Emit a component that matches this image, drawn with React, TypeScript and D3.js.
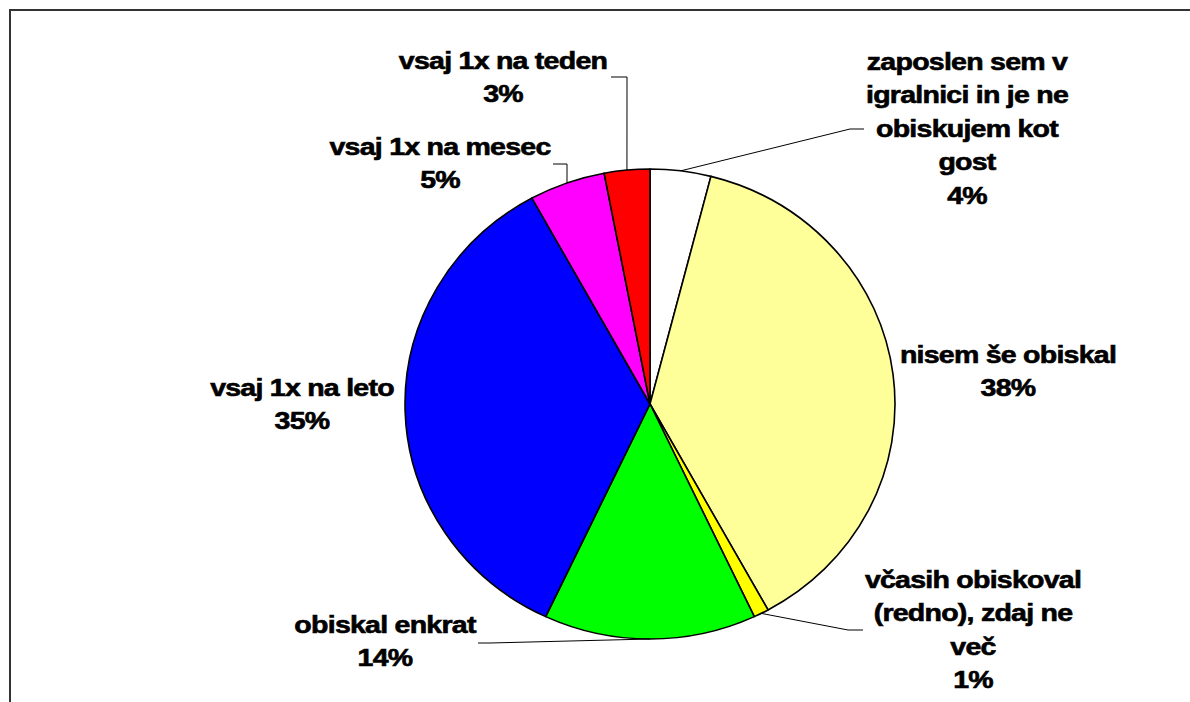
import React from "react";
import * as d3 from "d3";

// ---- data ----
const categories = [
  "zaposlen sem v igralnici in je ne obiskujem kot gost",
  "nisem še obiskal",
  "včasih obiskoval (redno), zdaj ne več",
  "obiskal enkrat",
  "vsaj 1x na leto",
  "vsaj 1x na mesec",
  "vsaj 1x na teden",
];
const values = [4, 38, 1, 14, 35, 5, 3];
const colors = ["#FFFFFF", "#FFFF99", "#FFFF00", "#00FF00", "#0000FF", "#FF00FF", "#FF0000"];
const labelLines = [
  ["zaposlen sem v", "igralnici in je ne", "obiskujem kot", "gost"],
  ["nisem še obiskal"],
  ["včasih obiskoval", "(redno), zdaj ne", "več"],
  ["obiskal enkrat"],
  ["vsaj 1x na leto"],
  ["vsaj 1x na mesec"],
  ["vsaj 1x na teden"],
];

// ---- layout (positions, not data) ----
const W = 1190;
const H = 702;
const cx = 650;
const cy = 404;
const ry = 235;
const rx = 245;
const lineH = 33.5;
// label center x, first baseline y
const labelPos: [number, number][] = [
  [967, 70],
  [1008, 363],
  [973, 588],
  [385, 633],
  [302, 396],
  [440, 155],
  [503, 69],
];
// leader elbow/end points (null = no leader)
const leaders: ([number, number][] | null)[] = [
  [[850, 129], [864, 129]],
  null,
  [[848, 630], [863, 630]],
  [[490, 643], [478, 643]],
  null,
  [[567, 164], [553, 164]],
  [[627, 77], [611, 77]],
];

export default function App() {
  const pie = d3.pie<number>().sort(null).value((d) => d)(values);
  const arc = d3.arc<d3.PieArcDatum<number>>().innerRadius(0).outerRadius(ry);
  const sx = rx / ry;
  const fontSize = 23;
  const textScale = 1.24;

  return (
    <svg
      width={W}
      height={H}
      style={{ position: "absolute", left: 0, top: 0, background: "#fff" }}
      fontFamily="'Liberation Sans', Arial, sans-serif"
    >
      <rect x={10} y={10} width={1300} height={900} fill="#fff" stroke="#333" strokeWidth={2} />
      <g transform={`translate(${cx},${cy}) scale(${sx},1)`}>
        {pie.map((p, i) => (
          <path
            key={i}
            d={arc(p) || ""}
            fill={colors[i]}
            stroke="#000"
            strokeWidth={1.6}
            vectorEffect="non-scaling-stroke"
            strokeLinejoin="round"
          />
        ))}
      </g>
      {pie.map((p, i) => {
        const l = leaders[i];
        if (!l) return null;
        const a = (p.startAngle + p.endAngle) / 2;
        const start: [number, number] = [cx + rx * Math.sin(a), cy - ry * Math.cos(a)];
        const pts = [start, ...l];
        return (
          <path
            key={"l" + i}
            d={d3.line()(pts) || ""}
            fill="none"
            stroke="#000"
            strokeWidth={1}
          />
        );
      })}
      {pie.map((p, i) => {
        const [lx, ly] = labelPos[i];
        const lines = [...labelLines[i], `${values[i]}%`];
        return (
          <g key={"t" + i} transform={`translate(${lx},0) scale(${textScale},1)`}>
            {lines.map((t, j) => (
              <text
                key={j}
                x={0}
                y={ly + j * lineH}
                textAnchor="middle"
                fontWeight="bold"
                fontSize={fontSize}
                fill="#000"
                stroke="#000"
                strokeWidth={0.6}
                letterSpacing={-0.6}
              >
                {t}
              </text>
            ))}
          </g>
        );
      })}
    </svg>
  );
}
